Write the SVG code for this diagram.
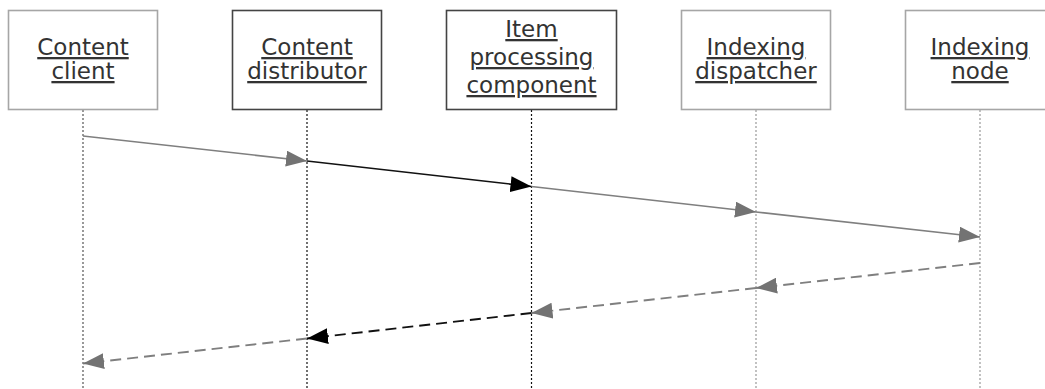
<svg xmlns="http://www.w3.org/2000/svg" width="1045" height="389" viewBox="0 0 1045 389">
<style>
.box{fill:#fff;stroke-width:1.6}
.light{stroke:#a6a6a6}
.dark{stroke:#444}
.lbl{font-family:"DejaVu Sans",Verdana,sans-serif;font-size:23px;fill:#333;text-anchor:middle;text-decoration:underline}
.life{fill:none;stroke-width:1.2;stroke-dasharray:2,2}
.msg{fill:none;stroke-width:1.6}
.g{stroke:#7f7f7f}
.k{stroke:#111}
.dash{stroke-dasharray:11,6;stroke-width:1.9}
</style>
<defs>
<marker id="ag" markerUnits="userSpaceOnUse" markerWidth="22" markerHeight="16" refX="21" refY="8" orient="auto" viewBox="0 0 22 16"><path d="M0,0 L21,8 L0,16 z" fill="#737373"/></marker>
<marker id="ak" markerUnits="userSpaceOnUse" markerWidth="22" markerHeight="16" refX="21" refY="8" orient="auto" viewBox="0 0 22 16"><path d="M0,0 L21,8 L0,16 z" fill="#000"/></marker>
</defs>
<rect width="1045" height="389" fill="#fff"/>
<g id="lifelines">
<line class="life" x1="83" y1="110" x2="83" y2="389" stroke="#555"/>
<line class="life" x1="307" y1="110" x2="307" y2="389" stroke="#111"/>
<line class="life" x1="531.5" y1="110" x2="531.5" y2="389" stroke="#111"/>
<line class="life" x1="756" y1="110" x2="756" y2="389" stroke="#999"/>
<line class="life" x1="980" y1="110" x2="980" y2="389" stroke="#999"/>
</g>
<g id="content-client">
<rect class="box light" x="8.5" y="10.5" width="149" height="99"/>
<text class="lbl" x="83" y="55">Content</text>
<text class="lbl" x="83" y="79">client</text>
</g>
<g id="content-distributor">
<rect class="box dark" x="232.5" y="10.5" width="149" height="99"/>
<text class="lbl" x="307" y="55">Content</text>
<text class="lbl" x="307" y="79">distributor</text>
</g>
<g id="item-processing-component">
<rect class="box dark" x="446.5" y="10.5" width="170" height="99"/>
<text class="lbl" x="531.5" y="37">Item</text>
<text class="lbl" x="531.5" y="65">processing</text>
<text class="lbl" x="531.5" y="93">component</text>
</g>
<g id="indexing-dispatcher">
<rect class="box light" x="681.5" y="10.5" width="149" height="99"/>
<text class="lbl" x="756" y="55">Indexing</text>
<text class="lbl" x="756" y="79">dispatcher</text>
</g>
<g id="indexing-node">
<rect class="box light" x="905.5" y="10.5" width="149" height="99"/>
<text class="lbl" x="980" y="55">Indexing</text>
<text class="lbl" x="980" y="79">node</text>
</g>
<g id="connectors">
<line class="msg g" x1="83" y1="136" x2="307" y2="161" marker-end="url(#ag)"/>
<line class="msg k" x1="307" y1="161" x2="531.5" y2="186.5" marker-end="url(#ak)"/>
<line class="msg g" x1="531.5" y1="186.5" x2="756" y2="212" marker-end="url(#ag)"/>
<line class="msg g" x1="756" y1="212" x2="980" y2="237" marker-end="url(#ag)"/>
<line class="msg g dash" x1="980" y1="263" x2="756" y2="288" marker-end="url(#ag)"/>
<line class="msg g dash" x1="756" y1="288" x2="531.5" y2="313" marker-end="url(#ag)"/>
<line class="msg k dash" x1="531.5" y1="313" x2="307" y2="338.5" marker-end="url(#ak)"/>
<line class="msg g dash" x1="307" y1="338.5" x2="83" y2="363.5" marker-end="url(#ag)"/>
</g>
</svg>
